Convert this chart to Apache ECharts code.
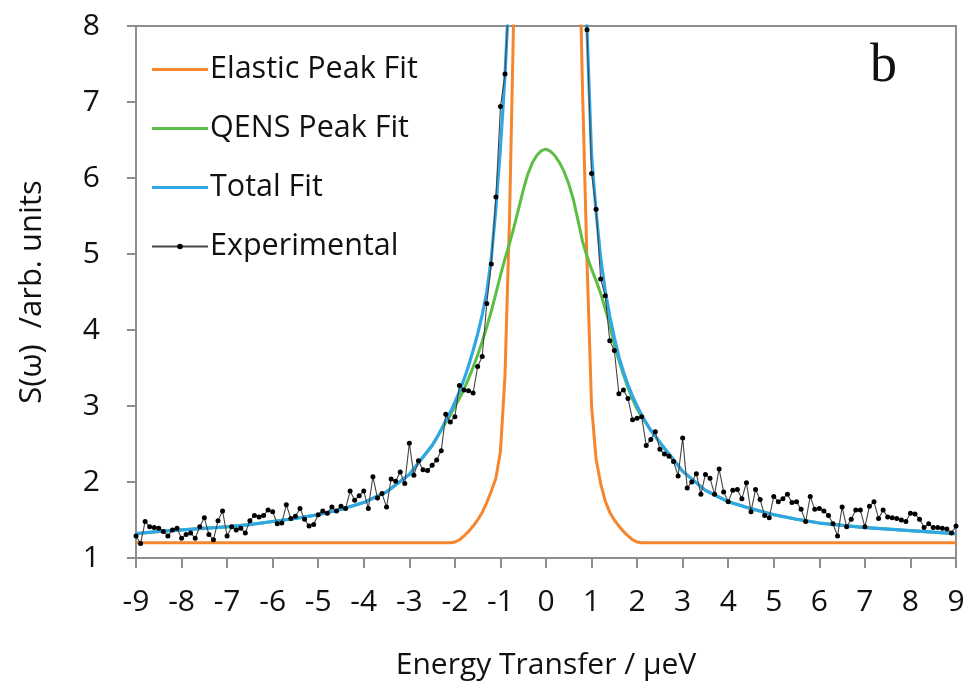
<!DOCTYPE html>
<html>
<head>
<meta charset="utf-8">
<script src="https://cdn.jsdelivr.net/npm/echarts@6/dist/echarts.min.js"></script>
<style>
html,body{margin:0;padding:0;background:#fff;}
#chart{width:968px;height:692px;}
</style>
</head>
<body>
<div id="chart"></div>
<script>
// ---- data ----
const xTicks = [-9,-8,-7,-6,-5,-4,-3,-2,-1,0,1,2,3,4,5,6,7,8,9];
const yTicks = [1,2,3,4,5,6,7,8];

const fitX = [-9,-8.5,-8,-7.5,-7,-6.5,-6,-5.5,-5,-4.5,-4,-3.5,-3,
  -2.5,-2.4,-2.3,-2.2,-2.1,-2,-1.9,-1.8,-1.7,-1.6,-1.5,-1.4,-1.3,-1.2,-1.1,-1,
  -0.9,-0.8,-0.7,-0.6,-0.5,-0.4,-0.3,-0.2,-0.1,0,0.1,0.2,0.3,0.4,0.5,0.6,0.7,0.8,0.9,1,
  1.1,1.2,1.3,1.4,1.5,1.6,1.7,1.8,1.9,2,2.1,2.2,2.3,2.4,2.5,
  3,3.5,4,4.5,5,5.5,6,6.5,7,7.5,8,8.5,9];

const totalFit = [1.32,1.35,1.37,1.39,1.41,1.44,1.48,1.52,1.57,1.64,1.73,1.87,2.10,
  2.48,2.58,2.69,2.81,2.92,3.05,3.19,3.35,3.53,3.73,3.95,4.20,4.50,4.95,5.60,6.40,
  7.35,8.60,10.4,12.5,15.0,17.5,19.5,21.0,22.0,22.3,22.0,21.0,19.5,17.5,15.2,13.0,11.0,9.30,7.95,6.30,
  5.55,4.95,4.52,4.18,3.90,3.65,3.45,3.28,3.13,3.00,2.88,2.78,2.68,2.60,2.52,
  2.14,1.89,1.74,1.65,1.57,1.51,1.46,1.43,1.40,1.38,1.36,1.34,1.32];

const qensFit = [1.32,1.35,1.37,1.39,1.41,1.44,1.48,1.52,1.57,1.64,1.73,1.87,2.10,
  2.48,2.58,2.68,2.78,2.88,2.99,3.10,3.22,3.36,3.51,3.67,3.85,4.04,4.25,4.48,4.72,
  4.94,5.14,5.36,5.60,5.84,6.05,6.20,6.30,6.36,6.38,6.35,6.29,6.20,6.08,5.92,5.72,5.45,5.17,4.97,4.80,
  4.65,4.48,4.28,4.07,3.80,3.60,3.41,3.24,3.09,2.96,2.86,2.77,2.68,2.60,2.52,
  2.14,1.89,1.74,1.65,1.57,1.51,1.46,1.43,1.40,1.38,1.36,1.34,1.32];

const elasticX = [-9,-2.1,-2,-1.9,-1.8,-1.7,-1.6,-1.5,-1.4,-1.3,-1.2,-1.1,-1,
  -0.9,-0.8,-0.7,-0.6,-0.5,-0.4,-0.3,-0.2,-0.1,0,0.1,0.2,0.3,0.4,0.5,0.6,0.7,0.8,0.9,1,
  1.1,1.2,1.3,1.4,1.5,1.6,1.7,1.8,1.9,2,2.1,9];
const elasticFit = [1.2,1.2,1.21,1.24,1.29,1.35,1.42,1.50,1.60,1.73,1.88,2.05,2.40,
  3.4,5.5,8.4,12,16,20,24,27,29,30,29.5,28,25,21.5,17.5,13.5,10,7.2,4.9,3.0,
  2.3,1.98,1.75,1.60,1.50,1.42,1.35,1.29,1.24,1.21,1.2,1.2];

const expX = [-9.0,-8.9,-8.8,-8.7,-8.6,-8.5,-8.4,-8.3,-8.2,-8.1,
  -8.0,-7.9,-7.8,-7.7,-7.6,-7.5,-7.4,-7.3,-7.2,-7.1,
  -7.0,-6.9,-6.8,-6.7,-6.6,-6.5,-6.4,-6.3,-6.2,-6.1,
  -6.0,-5.9,-5.8,-5.7,-5.6,-5.5,-5.4,-5.3,-5.2,-5.1,
  -5.0,-4.9,-4.8,-4.7,-4.6,-4.5,-4.4,-4.3,-4.2,-4.1,
  -4.0,-3.9,-3.8,-3.7,-3.6,-3.5,-3.4,-3.3,-3.2,-3.1,
  -3.0,-2.9,-2.8,-2.7,-2.6,-2.5,-2.4,-2.3,-2.2,-2.1,
  -2.0,-1.9,-1.8,-1.7,-1.6,-1.5,-1.4,-1.3,-1.2,-1.1,
  -1.0,-0.9,-0.8,-0.7,-0.6,-0.5,-0.4,-0.3,-0.2,-0.1,
  0.0,0.1,0.2,0.3,0.4,0.5,0.6,0.7,0.8,0.9,
  1.0,1.1,1.2,1.3,1.4,1.5,1.6,1.7,1.8,1.9,
  2.0,2.1,2.2,2.3,2.4,2.5,2.6,2.7,2.8,2.9,
  3.0,3.1,3.2,3.3,3.4,3.5,3.6,3.7,3.8,3.9,
  4.0,4.1,4.2,4.3,4.4,4.5,4.6,4.7,4.8,4.9,
  5.0,5.1,5.2,5.3,5.4,5.5,5.6,5.7,5.8,5.9,
  6.0,6.1,6.2,6.3,6.4,6.5,6.6,6.7,6.8,6.9,
  7.0,7.1,7.2,7.3,7.4,7.5,7.6,7.7,7.8,7.9,
  8.0,8.1,8.2,8.3,8.4,8.5,8.6,8.7,8.8,8.9,9.0];
const expY = [1.29,1.19,1.48,1.41,1.40,1.39,1.35,1.29,1.37,1.39,
  1.26,1.31,1.33,1.26,1.41,1.53,1.31,1.24,1.49,1.62,
  1.29,1.41,1.37,1.39,1.33,1.49,1.56,1.54,1.56,1.63,
  1.61,1.45,1.46,1.70,1.52,1.55,1.65,1.51,1.42,1.44,
  1.57,1.62,1.59,1.67,1.62,1.68,1.65,1.88,1.76,1.82,
  1.88,1.65,2.07,1.79,1.85,1.67,2.04,2.01,2.13,1.98,
  2.51,2.09,2.28,2.16,2.15,2.22,2.29,2.41,2.89,2.79,
  2.86,3.27,3.21,3.20,3.17,3.52,3.65,4.35,4.87,5.75,
  6.94,7.37,8.6,12.5,15,18,20.5,22,23,23.5,
  23.6,23.4,22.8,21.5,19.5,17,14.5,12,9.9,7.95,
  6.06,5.59,4.67,4.45,3.86,3.73,3.16,3.21,3.10,2.82,
  2.84,2.86,2.48,2.56,2.66,2.43,2.37,2.34,2.27,2.08,
  2.58,1.92,2.00,2.11,1.84,2.10,2.05,1.84,2.17,1.87,
  1.74,1.89,1.90,1.78,1.99,1.61,1.90,1.77,1.56,1.53,
  1.81,1.74,1.78,1.84,1.73,1.74,1.64,1.48,1.81,1.64,
  1.65,1.62,1.56,1.45,1.29,1.67,1.41,1.51,1.63,1.63,
  1.41,1.68,1.74,1.52,1.63,1.54,1.53,1.52,1.50,1.48,
  1.59,1.58,1.51,1.40,1.45,1.40,1.40,1.39,1.38,1.33,1.42];

function zip(xs, ys){ return xs.map((x,i)=>[x, ys[i]]); }

const FONT = 'Open Sans';
const TXT = '#111111';
const AX = '#8e8e8e';
const LINE_ICON = 'path://M0,0H56V3.2H0Z';

const chart = echarts.init(document.getElementById('chart'), null, {renderer:'canvas'});
chart.setOption({
  animation:false,
  backgroundColor:'#ffffff',
  grid:{left:136, right:12, top:26, bottom:134, show:true, borderColor:AX, borderWidth:2, backgroundColor:'transparent'},
  legend:{
    orient:'vertical', left:146, top:47,
    itemWidth:56, itemHeight:7, itemGap:24,
    textStyle:{fontFamily:FONT, fontSize:30.5, color:TXT, lineHeight:35, padding:[0,0,0,-3]},
    data:[
      {name:'Elastic Peak Fit', icon:LINE_ICON},
      {name:'QENS Peak Fit', icon:LINE_ICON},
      {name:'Total Fit', icon:LINE_ICON},
      {name:'Experimental'}
    ]
  },
  graphic:[{type:'text', left:870, top:40, style:{text:'b', font:'54px "Liberation Serif"', fill:'#111'}}],
  xAxis:{
    type:'value', min:xTicks[0], max:xTicks[xTicks.length-1], interval:1,
    name:'Energy Transfer / μeV', nameLocation:'middle', nameGap:92,
    nameTextStyle:{fontFamily:FONT, fontSize:30, color:TXT},
    axisLine:{show:true, onZero:false, lineStyle:{color:AX, width:2}},
    axisTick:{show:true, inside:false, length:10, lineStyle:{color:AX, width:2}},
    axisLabel:{fontFamily:FONT, fontSize:30, color:TXT, margin:29},
    splitLine:{show:false}
  },
  yAxis:{
    type:'value', min:yTicks[0], max:yTicks[yTicks.length-1], interval:1,
    name:'S(ω)  /arb. units', nameLocation:'middle', nameGap:88, nameRotate:90,
    nameTextStyle:{fontFamily:FONT, fontSize:31, color:TXT},
    axisLine:{show:true, onZero:false, lineStyle:{color:AX, width:2}},
    axisTick:{show:true, inside:false, length:9, lineStyle:{color:AX, width:2}},
    axisLabel:{fontFamily:FONT, fontSize:30, color:TXT, margin:36},
    splitLine:{show:false}
  },
  series:[
    {name:'Elastic Peak Fit', type:'line', data:zip(elasticX, elasticFit), symbol:'none', clip:true,
     lineStyle:{color:'#F5862E', width:3}, itemStyle:{color:'#F5862E'}, z:2},
    {name:'QENS Peak Fit', type:'line', data:zip(fitX, qensFit), symbol:'none', clip:true,
     lineStyle:{color:'#5CBE45', width:3}, itemStyle:{color:'#5CBE45'}, z:3},
    {name:'Total Fit', type:'line', data:zip(fitX, totalFit), symbol:'none', clip:true,
     lineStyle:{color:'#2FA7E6', width:3.2}, itemStyle:{color:'#2FA7E6'}, z:4},
    {name:'Experimental', type:'line', data:zip(expX, expY), symbol:'circle', symbolSize:5, clip:true,
     lineStyle:{color:'#444444', width:1.1}, itemStyle:{color:'#000000'}, z:5}
  ]
});
</script>
</body>
</html>
